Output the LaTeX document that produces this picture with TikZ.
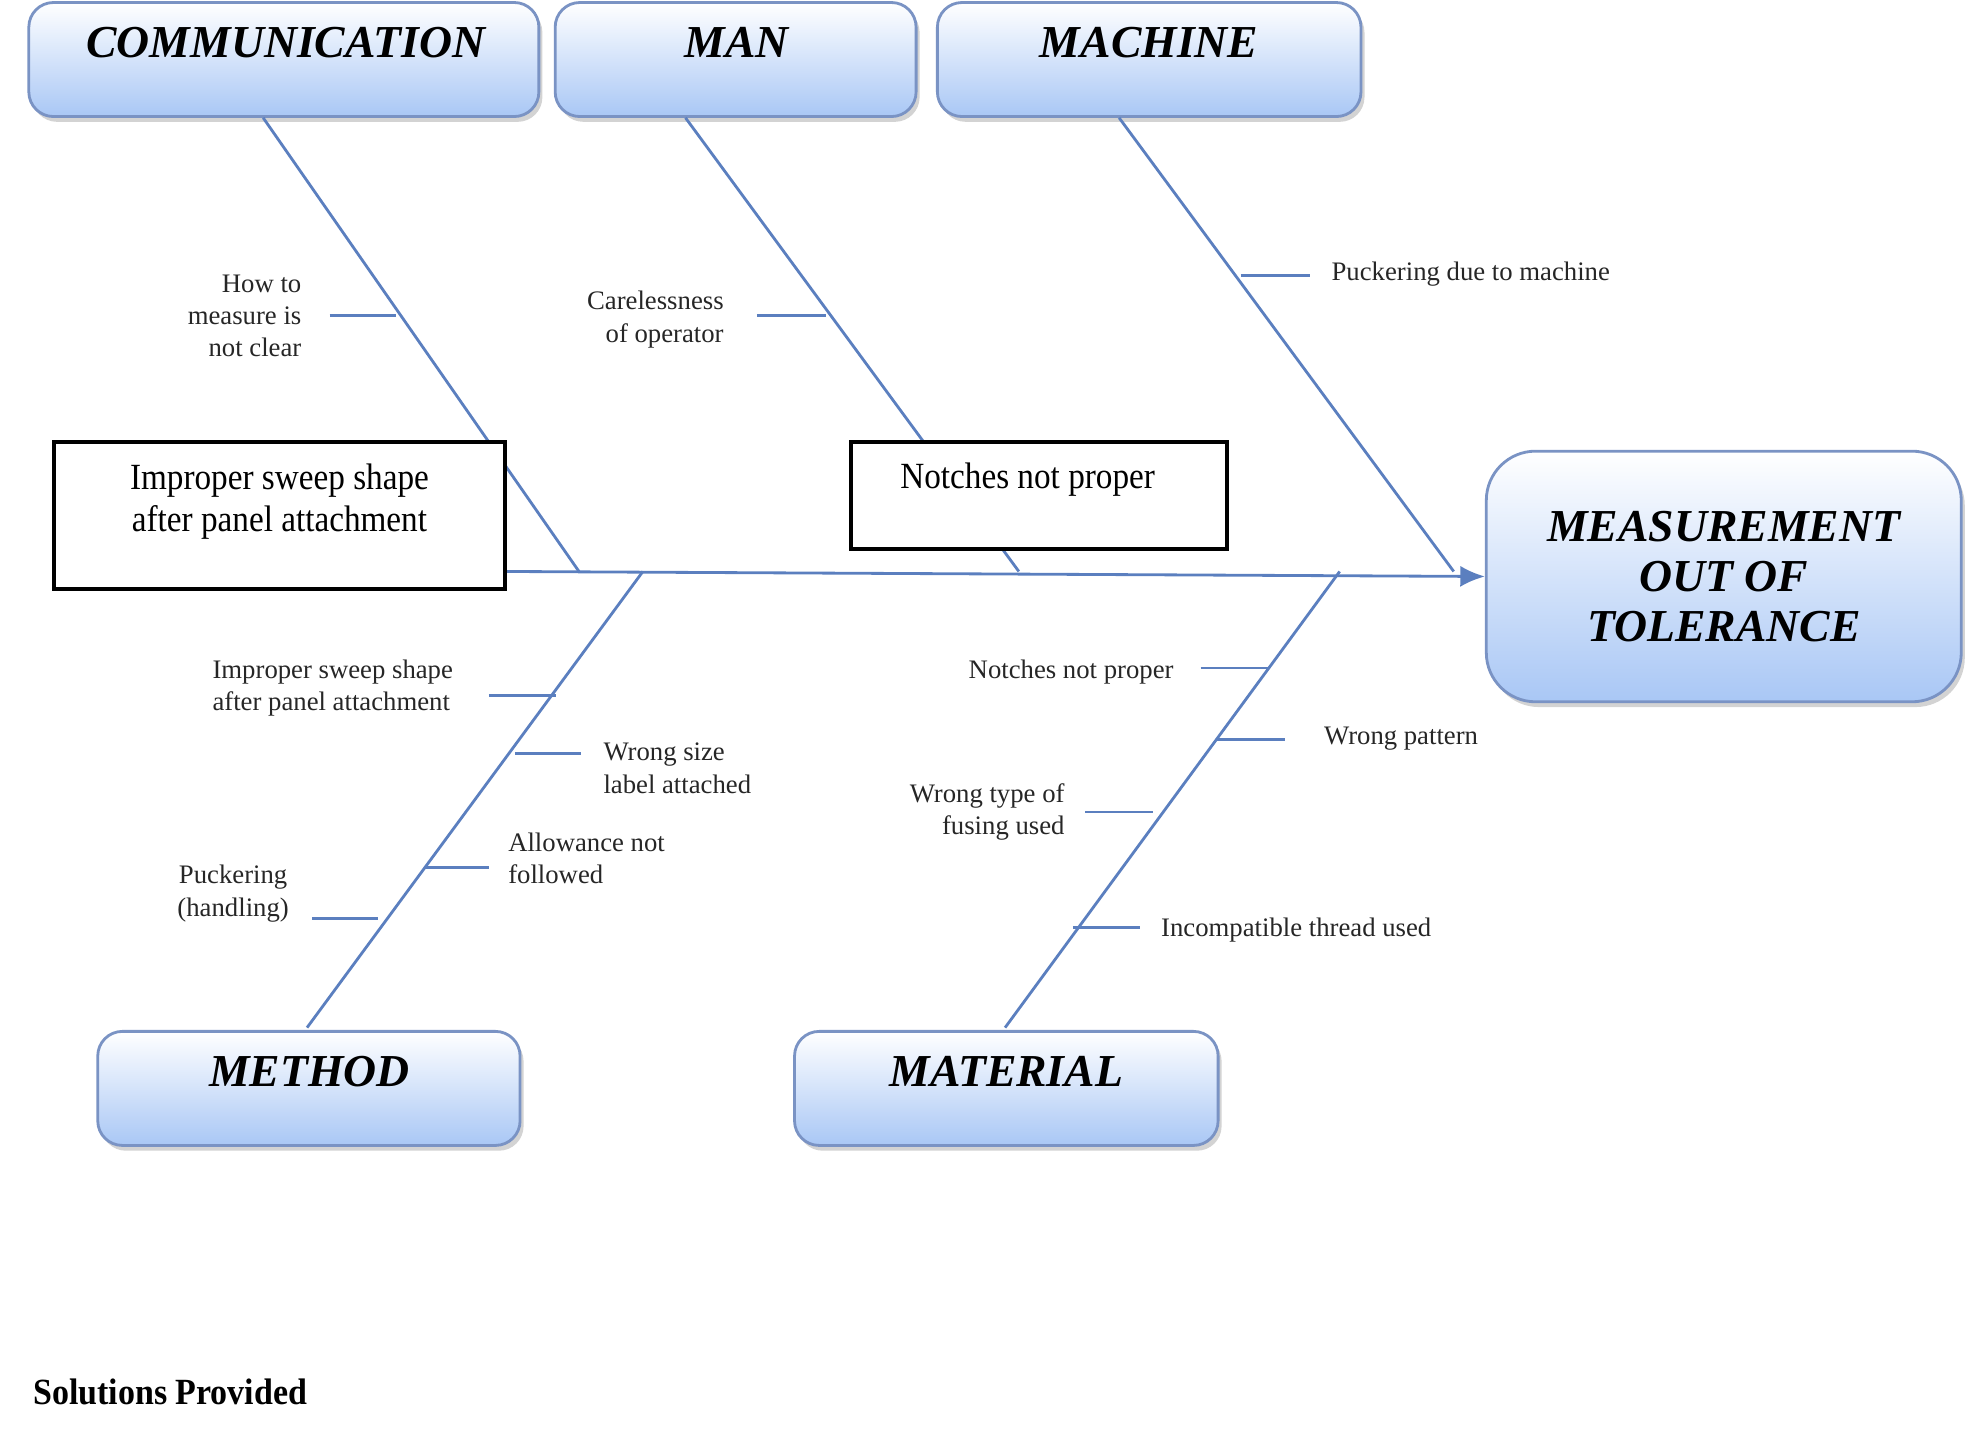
\documentclass[tikz,border=0pt]{standalone}
\usepackage{fontspec}
\setmainfont{Liberation Serif}
\usetikzlibrary{arrows.meta,shadows}
\definecolor{bone}{HTML}{5B7FBF}
\definecolor{boxbot}{HTML}{A9C7F5}
\definecolor{boxedge}{HTML}{7A93C4}
\tikzset{
  cat/.style={draw=boxedge,line width=0.8pt,rounded corners=7pt,top color=white,bottom color=boxbot,
    drop shadow={shadow xshift=1pt,shadow yshift=-1.5pt,opacity=0.35},
    font=\fontsize{13}{15}\selectfont\bfseries\itshape,inner sep=0pt},
  bonel/.style={draw=bone,line width=0.8pt},
  lbl/.style={font=\fontsize{7.6}{9.2}\selectfont,inner sep=0pt,text=black!85},
  over/.style={draw=black,line width=1.1pt,fill=white,font=\fontsize{10.5}{12}\selectfont,inner sep=0pt}
}
\begin{document}
\begin{tikzpicture}[x=0.01253cm,y=-0.01253cm]
\useasboundingbox (0,0) rectangle (1568,1155);
% category boxes
\node[cat,minimum width=407*0.01253cm,minimum height=91*0.01253cm] (comm) at (226.5,47.5) {};
\node[font=\fontsize{13}{15}\selectfont\bfseries\itshape] at (228,34) {COMMUNICATION};
\node[cat,minimum width=288*0.01253cm,minimum height=91*0.01253cm] (man) at (587,47.5) {};
\node[font=\fontsize{13}{15}\selectfont\bfseries\itshape] at (588,34) {MAN};
\node[cat,minimum width=338*0.01253cm,minimum height=91*0.01253cm] (mach) at (917,47.5) {};
\node[font=\fontsize{13}{15}\selectfont\bfseries\itshape] at (917,34) {MACHINE};
\node[cat,minimum width=337*0.01253cm,minimum height=91*0.01253cm] (meth) at (246.5,868.5) {};
\node[font=\fontsize{13}{15}\selectfont\bfseries\itshape] at (247,855) {METHOD};
\node[cat,minimum width=338*0.01253cm,minimum height=91*0.01253cm] (mat) at (803,868.5) {};
\node[font=\fontsize{13}{15}\selectfont\bfseries\itshape] at (803,855) {MATERIAL};
\node[cat,rounded corners=14pt,minimum width=379*0.01253cm,minimum height=200*0.01253cm,align=center,
  font=\fontsize{13}{14.2}\selectfont\bfseries\itshape] (eff) at (1375.5,460) {MEASUREMENT\\OUT OF\\TOLERANCE};
% bones
\coordinate (s0) at (403,456);
\coordinate (c1) at (210,94); \coordinate (c2) at (462,456);
\coordinate (m1) at (547,94); \coordinate (m2) at (813,456);
\coordinate (h1) at (893,94); \coordinate (h2) at (1160,456);
\coordinate (t1) at (245,820); \coordinate (t2) at (513,456);
\coordinate (a1) at (802,820); \coordinate (a2) at (1069,456);
\draw[bonel,-{Latex[length=7pt,width=6pt]}] (s0) -- (eff.west);
\draw[bonel] (c1)--(c2); \draw[bonel] (m1)--(m2); \draw[bonel] (h1)--(h2);
\draw[bonel] (t1)--(t2); \draw[bonel] (a1)--(a2);
% ticks
\foreach \xa/\xb/\yy in {263/316/252,604/659/252,990/1045/220,390/444/555,411/464/601,339/390/692,249/302/733,958/1012/533,970/1025/590,866/920/648,856/910/740}
  \draw[bonel] (\xa,\yy) -- (\xb,\yy);
% labels
\node[lbl,anchor=east,align=right] (l1) at (241,252) {How to\\measure is\\not clear};
\node[lbl,anchor=east,align=right] (l2) at (578,255) {Carelessness\\of operator};
\node[lbl,anchor=west] (l3) at (1062,219) {Puckering due to machine};
\node[lbl,anchor=east,align=left] (l4) at (362,549) {Improper sweep shape\\after panel attachment};
\node[lbl,anchor=west,align=left] (l5) at (481,613) {Wrong size\\label attached};
\node[lbl,anchor=west,align=left] (l6) at (405,685) {Allowance not\\followed};
\node[lbl,anchor=east,align=center] (l7) at (231,713) {Puckering\\(handling)};
\node[lbl,anchor=east] (l8) at (937,536) {Notches not proper};
\node[lbl,anchor=west] (l9) at (1056,589) {Wrong pattern};
\node[lbl,anchor=east,align=right] (l10) at (850,648) {Wrong type of\\fusing used};
\node[lbl,anchor=west] (l11) at (926,742) {Incompatible thread used};
% overlay boxes
\node[over,minimum width=360*0.01253cm,minimum height=117*0.01253cm] (o1) at (223,411.5) {};
\node[font=\fontsize{10.5}{12}\selectfont,align=center,inner sep=0pt,xscale=0.9] at (223,400) {Improper sweep shape\\after panel attachment};
\node[over,minimum width=300*0.01253cm,minimum height=85*0.01253cm] (o2) at (829,395.5) {};
\node[font=\fontsize{10.5}{12}\selectfont,inner sep=0pt,xscale=0.9] at (820,383) {Notches not proper};
\node[anchor=west,font=\fontsize{10.5}{12}\selectfont\bfseries,inner sep=0pt,xscale=0.92] (sol) at (26,1111) {Solutions Provided};
\end{tikzpicture}
\end{document}
